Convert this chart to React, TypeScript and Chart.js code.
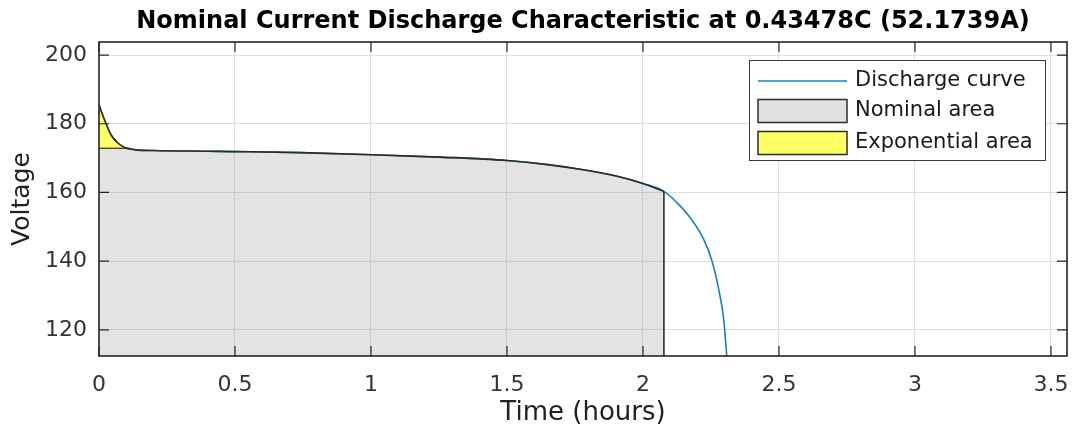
import React, { useEffect, useRef } from "react";
import { Chart, registerables } from "chart.js";

Chart.register(...registerables);

const FONT = "'DejaVu Sans', 'Liberation Sans', sans-serif";

const titleText = "Nominal Current Discharge Characteristic at 0.43478C (52.1739A)";
const xAxisLabel = "Time (hours)";
const yAxisLabel = "Voltage";
const legendLabels = ["Discharge curve", "Nominal area", "Exponential area"];

// Discharge curve (time in hours, voltage in V)
const timeHours = [
  0, 0.013, 0.026, 0.044, 0.069, 0.099, 0.136, 0.2, 0.4, 0.5, 0.742, 1.005, 1.25, 1.5,
  1.65, 1.78, 1.905, 2.0, 2.077, 2.13, 2.174, 2.223, 2.254, 2.278, 2.297, 2.308,
];
const voltage = [
  185.5, 182.6, 180.0, 176.8, 174.4, 172.9, 172.4, 172.2, 172.0, 171.9, 171.6, 171.0, 170.3, 169.3,
  168.1, 166.6, 164.7, 162.6, 160.3, 156.6, 152.6, 146.4, 140.0, 132.0, 123.0, 112.4,
];
const exponentialEndIndex = 5; // end of exponential zone
const nominalEndIndex = 18; // end of nominal zone

const xTicks = [0, 0.5, 1, 1.5, 2, 2.5, 3, 3.5];
const yTicks = [120, 140, 160, 180, 200];
const xRange = [0, 3.559];
const yRange = [112.4, 203.8];

const BLUE = "#1482bd";
const EDGE = "#2b2b2b";
const GRAY_FILL = "rgba(150,150,150,0.27)";
const YELLOW_FILL = "rgba(255,255,0,0.58)";
const AXIS_COLOR = "#262626";
const TEXT_COLOR = "#333333";

const titlePlugin = {
  id: "axesTitle",
  afterDraw(chart: any) {
    const { ctx, chartArea: a } = chart;
    ctx.save();
    ctx.font = `bold 24px ${FONT}`;
    ctx.fillStyle = "#000000";
    ctx.textAlign = "center";
    ctx.textBaseline = "alphabetic";
    ctx.fillText(titleText, (a.left + a.right) / 2, 28);
    ctx.restore();
  },
};

const framePlugin = {
  id: "frame",
  afterDatasetsDraw(chart: any) {
    const { ctx, chartArea: a, scales } = chart;
    const tl = 10;
    ctx.save();
    ctx.strokeStyle = AXIS_COLOR;
    ctx.lineWidth = 1.2;
    ctx.beginPath();
    for (const v of xTicks) {
      const px = scales.x.getPixelForValue(v);
      ctx.moveTo(px, a.bottom);
      ctx.lineTo(px, a.bottom - tl);
      ctx.moveTo(px, a.top);
      ctx.lineTo(px, a.top + tl);
    }
    for (const v of yTicks) {
      const py = scales.y.getPixelForValue(v);
      ctx.moveTo(a.left, py);
      ctx.lineTo(a.left + tl, py);
      ctx.moveTo(a.right, py);
      ctx.lineTo(a.right - tl, py);
    }
    ctx.stroke();
    ctx.lineWidth = 1.6;
    ctx.strokeRect(a.left, a.top, a.right - a.left, a.bottom - a.top);
    ctx.restore();
  },
};

const legendPlugin = {
  id: "insideLegend",
  afterDraw(chart: any) {
    const { ctx, chartArea: a } = chart;
    const w = 296;
    const h = 100;
    const left = a.right - 22 - w;
    const top = a.top + 18;
    ctx.save();
    ctx.fillStyle = "#ffffff";
    ctx.fillRect(left, top, w, h);
    ctx.strokeStyle = "#3a3a3a";
    ctx.lineWidth = 1;
    ctx.strokeRect(left + 0.5, top + 0.5, w, h);

    const sx0 = left + 9;
    const sx1 = left + 98;
    const rows = [top + 21, top + 51, top + 83];

    ctx.strokeStyle = BLUE;
    ctx.lineWidth = 1.5;
    ctx.beginPath();
    ctx.moveTo(sx0, rows[0]);
    ctx.lineTo(sx1, rows[0]);
    ctx.stroke();

    const fills = ["#e1e1e1", "#ffff66"];
    [1, 2].forEach((r, i) => {
      ctx.fillStyle = fills[i];
      ctx.fillRect(sx0, rows[r] - 11.5, sx1 - sx0, 23);
      ctx.strokeStyle = EDGE;
      ctx.lineWidth = 1.5;
      ctx.strokeRect(sx0, rows[r] - 11.5, sx1 - sx0, 23);
    });

    ctx.fillStyle = "#1a1a1a";
    ctx.font = `21px ${FONT}`;
    ctx.textAlign = "left";
    ctx.textBaseline = "middle";
    legendLabels.forEach((t, i) => ctx.fillText(t, left + 106, rows[i]));
    ctx.restore();
  },
};

export default function App() {
  const canvasRef = useRef<HTMLCanvasElement | null>(null);

  useEffect(() => {
    if (!canvasRef.current) return;
    const pts = timeHours.map((t, i) => ({ x: t, y: voltage[i] }));
    const expV = voltage[exponentialEndIndex];
    const exponentialPts = pts.slice(0, exponentialEndIndex + 1);
    const nominalPts = [{ x: 0, y: expV }, ...pts.slice(exponentialEndIndex, nominalEndIndex + 1)];
    const edgePts = [
      { x: timeHours[nominalEndIndex], y: voltage[nominalEndIndex] },
      { x: timeHours[nominalEndIndex], y: yRange[0] },
    ];

    const common = {
      showLine: true,
      pointRadius: 0,
      pointHoverRadius: 0,
      cubicInterpolationMode: "monotone" as const,
    };

    const chart = new Chart(canvasRef.current, {
      type: "scatter",
      data: {
        datasets: [
          {
            ...common,
            label: legendLabels[0],
            data: pts,
            borderColor: BLUE,
            borderWidth: 1.6,
            fill: false,
            order: 4,
          },
          {
            ...common,
            label: legendLabels[1],
            data: nominalPts,
            borderColor: EDGE,
            borderWidth: 1.6,
            backgroundColor: GRAY_FILL,
            fill: "start",
            order: 2,
          },
          {
            ...common,
            label: "nominal edge",
            data: edgePts,
            borderColor: EDGE,
            borderWidth: 1.6,
            fill: false,
            order: 1,
          },
          {
            ...common,
            label: legendLabels[2],
            data: exponentialPts,
            borderColor: EDGE,
            borderWidth: 1.6,
            backgroundColor: YELLOW_FILL,
            fill: { value: expV },
            order: 0,
          },
        ],
      },
      options: {
        responsive: false,
        animation: false,
        devicePixelRatio: 1,
        events: [],
        layout: { padding: { top: 42, right: 6, bottom: 0, left: 0 } },
        plugins: {
          legend: { display: false },
          tooltip: { enabled: false },
          title: { display: false },
        },
        scales: {
          x: {
            type: "linear",
            min: xRange[0],
            max: xRange[1],
            afterBuildTicks: (s: any) => {
              s.ticks = xTicks.map((v) => ({ value: v }));
            },
            afterFit: (s: any) => {
              s.height = 86;
              s.paddingLeft = 0;
              s.paddingRight = 0;
            },
            ticks: {
              autoSkip: false,
              maxRotation: 0,
              padding: 16,
              color: TEXT_COLOR,
              font: { family: FONT, size: 22 },
              callback: (v: any) => String(v),
            },
            grid: { color: "#dedede", lineWidth: 1, drawTicks: false },
            border: { display: false },
            title: {
              display: true,
              text: xAxisLabel,
              color: "#222222",
              font: { family: FONT, size: 26 },
              padding: { top: 0, bottom: 13 },
            },
          },
          y: {
            type: "linear",
            min: yRange[0],
            max: yRange[1],
            afterBuildTicks: (s: any) => {
              s.ticks = yTicks.map((v) => ({ value: v }));
            },
            afterFit: (s: any) => {
              s.width = 99;
              s.paddingTop = 0;
              s.paddingBottom = 0;
            },
            ticks: {
              autoSkip: false,
              padding: 12,
              color: TEXT_COLOR,
              font: { family: FONT, size: 22 },
              callback: (v: any) => String(v),
            },
            grid: { color: "#dedede", lineWidth: 1, drawTicks: false },
            border: { display: false },
            title: {
              display: true,
              text: yAxisLabel,
              color: "#222222",
              font: { family: FONT, size: 25 },
              padding: { top: 7, bottom: 0 },
            },
          },
        },
      },
      plugins: [titlePlugin, framePlugin, legendPlugin],
    });
    return () => chart.destroy();
  }, []);

  return (
    <div
      style={{
        position: "fixed",
        left: 0,
        top: 0,
        width: 1073,
        height: 442,
        background: "#ffffff",
      }}
    >
      <canvas ref={canvasRef} width={1073} height={442} />
    </div>
  );
}
